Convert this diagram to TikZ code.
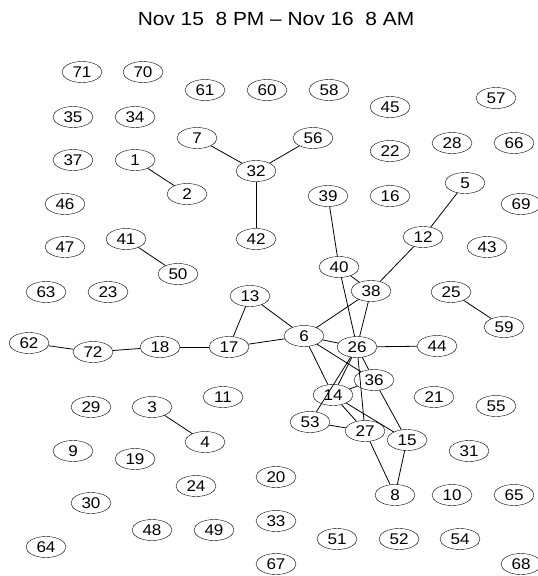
\documentclass[tikz,border=0pt]{standalone}
\usepackage{fontspec}
\setmainfont{Liberation Sans}[FakeStretch=1.1]
\usepackage{tikz}
\usetikzlibrary{shapes.geometric}

\begin{document}
\begin{tikzpicture}[
  x=1pt, y=-1pt,
  nd/.style={draw, ellipse, minimum width=40pt, minimum height=21pt, inner sep=0pt, font=\fontsize{15.5}{17}\selectfont},
  link/.style={line width=0.8pt}
]
\useasboundingbox (0,0) rectangle (538,576);
\node[font=\fontsize{19}{22}\selectfont] (title) at (276,19) {Nov 15\ \ 8 PM -- Nov 16\ \ 8 AM};

% top rows
\node[nd] (n71) at (82,72) {71};
\node[nd] (n70) at (143,72) {70};
\node[nd] (n61) at (205,90) {61};
\node[nd] (n60) at (267,90) {60};
\node[nd] (n58) at (329,90) {58};
\node[nd] (n45) at (390,107) {45};
\node[nd] (n57) at (496,98) {57};
\node[nd] (n35) at (73,117) {35};
\node[nd] (n34) at (135,117) {34};
\node[nd] (n7) at (197,138) {7};
\node[nd] (n56) at (313,138) {56};
\node[nd] (n22) at (390,151) {22};
\node[nd] (n28) at (452,143) {28};
\node[nd] (n66) at (514,143) {66};
\node[nd] (n37) at (73,160) {37};
\node[nd] (n1) at (135,160) {1};
\node[nd] (n32) at (256,171) {32};
\node[nd] (n2) at (187,194) {2};
\node[nd] (n5) at (465,183) {5};
\node[nd] (n46) at (65,204) {46};
\node[nd] (n39) at (328,196) {39};
\node[nd] (n16) at (390,196) {16};
\node[nd] (n69) at (521,204) {69};
\node[nd] (n42) at (256,239) {42};
\node[nd] (n41) at (126,239) {41};
\node[nd] (n47) at (65,247) {47};
\node[nd] (n12) at (423,237) {12};
\node[nd] (n43) at (487,247) {43};
\node[nd] (n40) at (339,267) {40};
\node[nd] (n50) at (178,274) {50};
\node[nd] (n63) at (46,292) {63};
\node[nd] (n23) at (108,292) {23};
\node[nd] (n13) at (250,296) {13};
\node[nd] (n38) at (371,291) {38};
\node[nd] (n25) at (451,292) {25};
\node[nd] (n59) at (504,327) {59};

% middle
\node[nd] (n62) at (29,343) {62};
\node[nd] (n72) at (93,352) {72};
\node[nd] (n18) at (160,347) {18};
\node[nd] (n17) at (229,347) {17};
\node[nd] (n6) at (304,336) {6};
\node[nd] (n26) at (357,347) {26};
\node[nd] (n44) at (437,346) {44};
\node[nd] (n36) at (374,380) {36};
\node[nd] (n29) at (91,407) {29};
\node[nd] (n3) at (152,407) {3};
\node[nd] (n11) at (223,397) {11};
\node[nd] (n14) at (333,395) {14};
\node[nd] (n21) at (434,397) {21};
\node[nd] (n55) at (496,406) {55};
\node[nd] (n53) at (310,422) {53};
\node[nd] (n27) at (365,431) {27};
\node[nd] (n15) at (407,440) {15};
\node[nd] (n4) at (205,442) {4};
\node[nd] (n9) at (73,451) {9};
\node[nd] (n31) at (469,451) {31};
\node[nd] (n19) at (135,459) {19};

% bottom rows
\node[nd] (n20) at (276,477) {20};
\node[nd] (n24) at (196,486) {24};
\node[nd] (n8) at (395,495) {8};
\node[nd] (n10) at (452,495) {10};
\node[nd] (n65) at (514,495) {65};
\node[nd] (n30) at (91,503) {30};
\node[nd] (n33) at (276,521) {33};
\node[nd] (n48) at (152,530) {48};
\node[nd] (n49) at (214,530) {49};
\node[nd] (n51) at (337,539) {51};
\node[nd] (n52) at (399,539) {52};
\node[nd] (n54) at (460,539) {54};
\node[nd] (n64) at (46,547) {64};
\node[nd] (n67) at (276,564) {67};
\node[nd] (n68) at (521,564) {68};

% edges
\draw[link] (n7) -- (n32);
\draw[link] (n56) -- (n32);
\draw[link] (n32) -- (n42);
\draw[link] (n1) -- (n2);
\draw[link] (n41) -- (n50);
\draw[link] (n3) -- (n4);
\draw[link] (n5) -- (n12);
\draw[link] (n12) -- (n38);
\draw[link] (n39) -- (n40);
\draw[link] (n40) -- (n26);
\draw[link] (n40) -- (n38);
\draw[link] (n38) -- (n26);
\draw[link] (n38) -- (n6);
\draw[link] (n25) -- (n59);
\draw[link] (n62) -- (n72);
\draw[link] (n72) -- (n18);
\draw[link] (n18) -- (n17);
\draw[link] (n17) -- (n6);
\draw[link] (n17) -- (n13);
\draw[link] (n13) -- (n6);
\draw[link] (n6) -- (n26);
\draw[link] (n6) -- (n14);
\draw[link] (n6) -- (n36);
\draw[link] (n26) -- (n44);
\draw[link] (n26) -- (n53);
\draw[link] (n26) -- (n14);
\draw[link] (n26) -- (n27);
\draw[link] (n26) -- (n36);
\draw[link] (n14) -- (n36);
\draw[link] (n14) -- (n27);
\draw[link] (n14) -- (n15);
\draw[link] (n53) -- (n27);
\draw[link] (n36) -- (n15);
\draw[link] (n27) -- (n8);
\draw[link] (n15) -- (n8);
\end{tikzpicture}
\end{document}
